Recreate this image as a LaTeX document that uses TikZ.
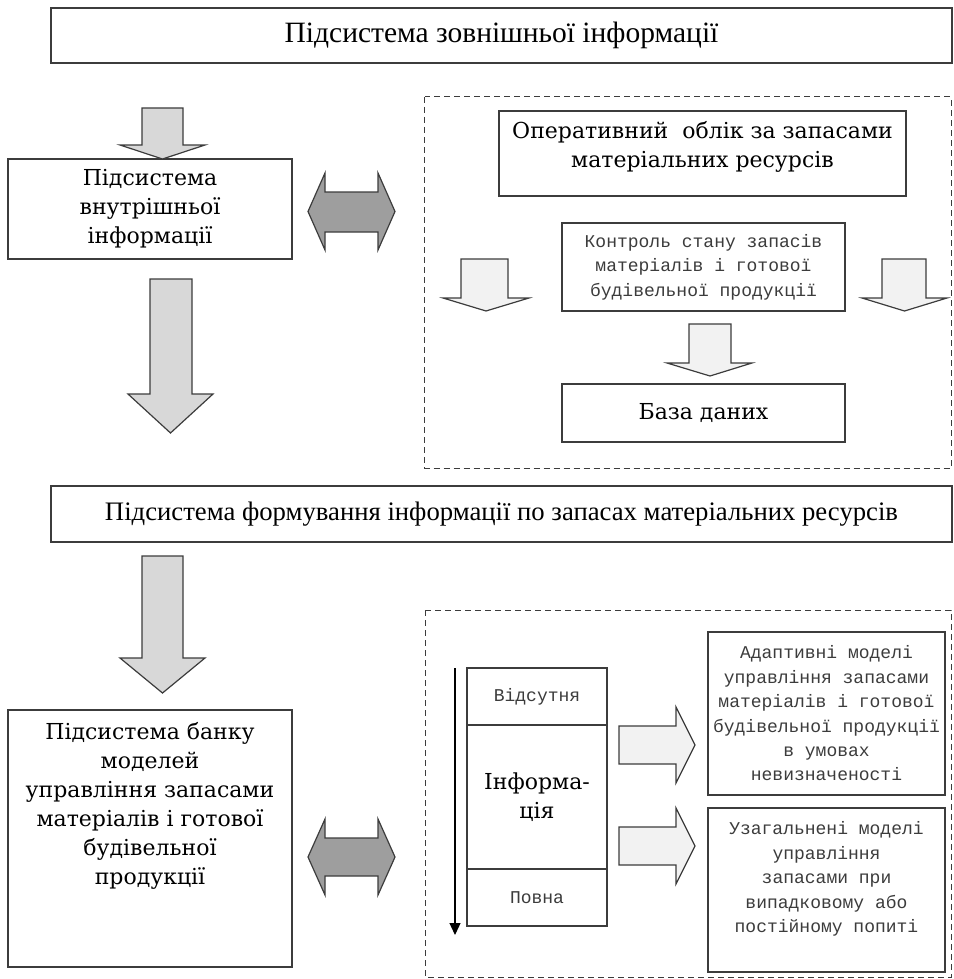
\documentclass[tikz,border=0pt]{standalone}
\usepackage{fontspec}
\setmainfont{DejaVu Serif}
\newfontfamily\hdrfont{Liberation Serif}
\newfontfamily\monofont{Liberation Mono}
\usetikzlibrary{arrows.meta}
\definecolor{edge}{RGB}{60,60,60}
\definecolor{shaftgray}{RGB}{216,216,216}
\definecolor{palegray}{RGB}{242,242,242}
\definecolor{midgray}{RGB}{158,158,158}
\definecolor{inkgray}{RGB}{60,60,60}

\begin{document}
\begin{tikzpicture}[x=1pt,y=1pt,yscale=-1,
  box/.style={draw=edge,line width=1.3pt,inner sep=0pt},
  hdr/.style={box,font=\hdrfont\fontsize{29.5}{33}\selectfont},
  big/.style={align=center,inner sep=0pt,font=\fontsize{22}{29}\selectfont},
  small/.style={align=center,inner sep=0pt,text=inkgray,font=\monofont\fontsize{18}{24.4}\selectfont},
  frame/.style={draw=edge,line width=1pt,dash pattern=on 6pt off 4pt},
  blkA/.style={draw=edge,line width=1.2pt,fill=shaftgray},
  blkB/.style={draw=edge,line width=1.2pt,fill=palegray},
  blkC/.style={draw=edge,line width=1.2pt,fill=midgray}]

\useasboundingbox (0,0) rectangle (953,979);

%Dashed frames
\draw[frame] (424.5,97) rectangle (951,468);
\draw[frame] (425,610) rectangle (951,977);

% Text Node
\node[hdr,minimum width=901pt,minimum height=55pt] (extSys) at (501.5,35.5) {Підсистема зовнішньої інформації};
% Text Node
\node[hdr,minimum width=901pt,minimum height=56pt,font=\hdrfont\fontsize{26.7}{30}\selectfont] (formSys) at (501.5,514) {Підсистема формування інформації по запасах матеріальних ресурсів};

% Text Node
\node[box,big,minimum width=284pt,minimum height=100pt] (intSys) at (150,209) {Підсистема\\внутрішньої\\інформації};
% Text Node
\node[box,minimum width=284pt,minimum height=257pt] (bankSys) at (150,838.5) {};
\node[big] (bankTxt) at (150,806) {Підсистема банку\\моделей\\управління запасами\\матеріалів і готової\\будівельної\\продукції};

% Text Node
\node[box,minimum width=407pt,minimum height=85pt] (opAcc) at (702.5,153.5) {};
\node[big] (opTxt) at (702.5,147) {Оперативний~ облік за запасами\\матеріальних ресурсів};
% Text Node
\node[box,small,minimum width=283pt,minimum height=88pt] (stockCtl) at (703.5,267) {Контроль стану запасів\\матеріалів і готової\\будівельної продукції};
% Text Node
\node[box,big,minimum width=283pt,minimum height=58pt] (dataBase) at (703.5,413) {База даних};

% Text Node
\node[box,small,minimum width=140pt,minimum height=57pt] (infNone) at (537,696.5) {Відсутня};
\node[box,big,minimum width=140pt,minimum height=144pt] (infMid) at (537,797) {Інформа-\\ція};
\node[box,small,minimum width=140pt,minimum height=57pt] (infFull) at (537,897.5) {Повна};
\coordinate (infA) at (455,668);
\coordinate (infB) at (455,935);
\draw[line width=1.2pt,-{Triangle[length=12pt,width=11pt]}] (infA) -- (infB);

% Text Node
\node[box,small,minimum width=237pt,minimum height=163pt] (adModels) at (826.5,713.5) {Адаптивні моделі\\управління запасами\\матеріалів і готової\\будівельної продукції\\в умовах\\невизначеності};
% Text Node
\node[box,minimum width=237pt,minimum height=164pt] (genModels) at (826.5,890) {};
\node[small] (genTxt) at (826.5,879) {Узагальнені моделі\\управління\\запасами при\\випадковому або\\постійному попиті};

%Shape: Down Arrow
\draw[blkA] (142,108) -- (183,108) -- (183,145) -- (205,145) -- (162.5,159) -- (120,145) -- (142,145) -- cycle;
%Shape: Down Arrow
\draw[blkA] (150,279) -- (192,279) -- (192,394) -- (213,394) -- (170.5,433) -- (128,394) -- (150,394) -- cycle;
%Shape: Down Arrow
\draw[blkA] (142,556) -- (183,556) -- (183,658) -- (205,658) -- (162.5,693) -- (120,658) -- (142,658) -- cycle;

%Shape: Left Right Arrow
\draw[blkC] (308,211.5) -- (325,173) -- (325,192) -- (378,192) -- (378,173) -- (395,211.5) -- (378,250) -- (378,232) -- (325,232) -- (325,250) -- cycle;
%Shape: Left Right Arrow
\draw[blkC] (308,857) -- (325,819) -- (325,838) -- (378,838) -- (378,819) -- (395,857) -- (378,895) -- (378,876) -- (325,876) -- (325,895) -- cycle;

%Shape: Down Arrow
\draw[blkB] (461,259) -- (508,259) -- (508,298) -- (529,298) -- (486,311) -- (443,298) -- (461,298) -- cycle;
%Shape: Down Arrow
\draw[blkB] (882,259) -- (926,259) -- (926,298) -- (947,298) -- (904.5,311) -- (862,298) -- (882,298) -- cycle;
%Shape: Down Arrow
\draw[blkB] (689,324) -- (731,324) -- (731,363) -- (752,363) -- (710,376) -- (667,363) -- (689,363) -- cycle;

%Shape: Right Arrow
\draw[blkB] (619,726) -- (676,726) -- (676,707) -- (695,745) -- (676,783) -- (676,764) -- (619,764) -- cycle;
%Shape: Right Arrow
\draw[blkB] (619,827) -- (676,827) -- (676,808) -- (695,846) -- (676,884) -- (676,865) -- (619,865) -- cycle;

\end{tikzpicture}
\end{document}
